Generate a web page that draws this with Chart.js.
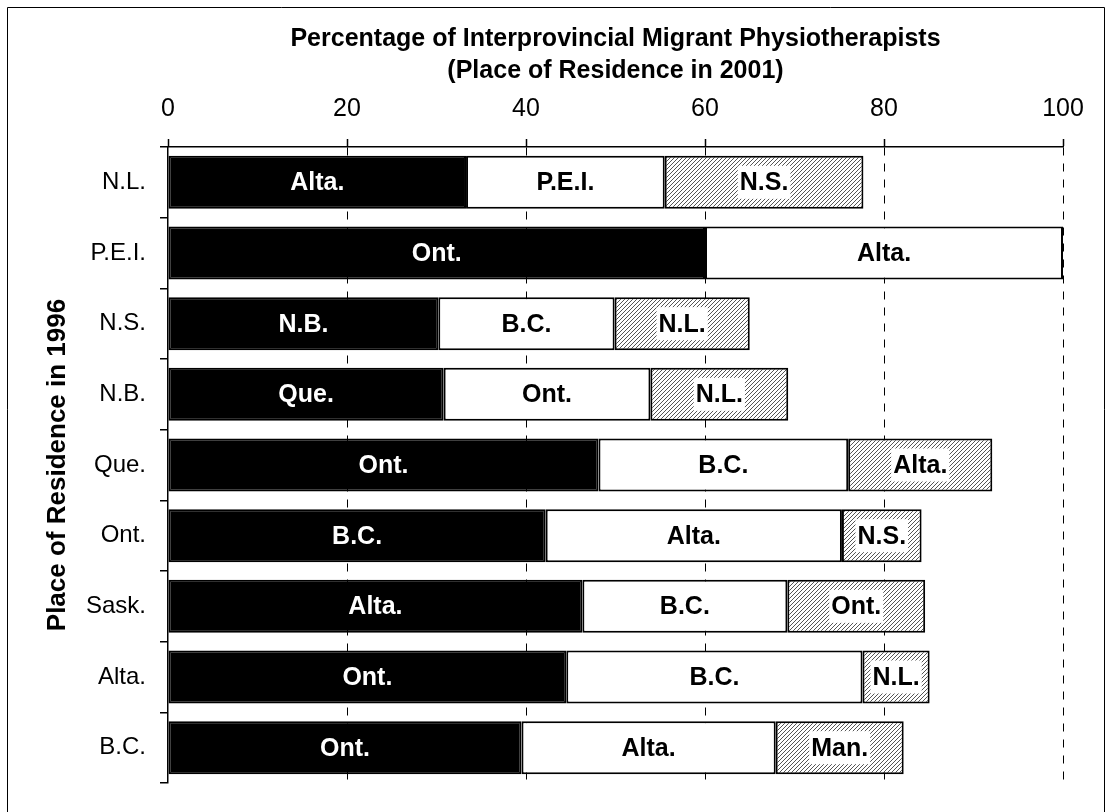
<!DOCTYPE html>
<html>
<head>
<meta charset="utf-8">
<script src="https://cdn.jsdelivr.net/npm/chart.js@4/dist/chart.umd.min.js"></script>
<style>
  body { margin: 0; background: #fff; }
  #zone { width: 1112px; height: 812px; }
</style>
</head>
<body>
<div id="zone"><canvas id="graph"></canvas></div>
<script>
// Données
const provinces1996 = ["N.L.", "P.E.I.", "N.S.", "N.B.", "Que.", "Ont.", "Sask.", "Alta.", "B.C."];
const valeursPremier = [33.3, 60.0, 30.2, 30.8, 48.1, 42.2, 46.3, 44.5, 39.5];
const valeursDeuxieme = [22.2, 40.0, 19.7, 23.1, 27.9, 33.1, 22.9, 33.1, 28.4];
const valeursTroisieme = [22.2, null, 15.1, 15.4, 16.1, 8.9, 15.4, 7.5, 14.3];
const destPremier = ["Alta.", "Ont.", "N.B.", "Que.", "Ont.", "B.C.", "Alta.", "Ont.", "Ont."];
const destDeuxieme = ["P.E.I.", "Alta.", "B.C.", "Ont.", "B.C.", "Alta.", "B.C.", "B.C.", "Alta."];
const destTroisieme = ["N.S.", "", "N.L.", "N.L.", "Alta.", "N.S.", "Ont.", "N.L.", "Man."];

const police = "'Liberation Sans', Arial, sans-serif";

// motif hachuré pour la 3e destination
function creerHachures() {
  const c = document.createElement("canvas");
  c.width = 4; c.height = 4;
  const g = c.getContext("2d");
  g.fillStyle = "#fff";
  g.fillRect(0, 0, 4, 4);
  g.strokeStyle = "#555";
  g.lineWidth = 1;
  g.beginPath();
  g.moveTo(0, 4); g.lineTo(4, 0);
  g.moveTo(-1, 1); g.lineTo(1, -1);
  g.moveTo(3, 5); g.lineTo(5, 3);
  g.stroke();
  return g.createPattern(c, "repeat");
}

// cadre + titre
const cadre = {
  id: "cadre",
  beforeDraw(chart) {
    const ctx = chart.ctx;
    ctx.save();
    ctx.fillStyle = "#fff";
    ctx.fillRect(0, 0, chart.width, chart.height);
    ctx.strokeStyle = "#000";
    ctx.lineWidth = 1;
    ctx.beginPath();
    ctx.moveTo(7.5, chart.height);
    ctx.lineTo(7.5, 7.5);
    ctx.lineTo(1104.5, 7.5);
    ctx.lineTo(1104.5, chart.height);
    ctx.stroke();

    const a = chart.chartArea;
    const cx = (a.left + a.right) / 2;
    ctx.fillStyle = "#000";
    ctx.font = "bold 25px " + police;
    ctx.textAlign = "center";
    ctx.textBaseline = "middle";
    ctx.fillText("Percentage of Interprovincial Migrant Physiotherapists", cx, 39);
    ctx.fillText("(Place of Residence in 2001)", cx, 71);
    ctx.restore();
  }
};

// noms des provinces dans les barres
const etiquettes = {
  id: "etiquettes",
  afterDatasetsDraw(chart) {
    const ctx = chart.ctx;
    const textes = [destPremier, destDeuxieme, destTroisieme];
    ctx.save();
    ctx.font = "bold 25px " + police;
    ctx.textAlign = "center";
    ctx.textBaseline = "middle";
    chart.data.datasets.forEach((ds, i) => {
      chart.getDatasetMeta(i).data.forEach((barre, j) => {
        const t = textes[i][j];
        if (!t || ds.data[j] == null) return;
        const x = (barre.x + barre.base) / 2;
        const y = barre.y;
        if (i === 2) {
          const w = ctx.measureText(t).width + 4;
          ctx.fillStyle = "#fff";
          ctx.fillRect(x - w / 2, y - 16.5, w, 33);
        }
        ctx.fillStyle = i === 0 ? "#fff" : "#000";
        ctx.fillText(t, x, y + 1);
      });
    });
    ctx.restore();
  }
};

new Chart(document.getElementById("graph"), {
  type: "bar",
  data: {
    labels: provinces1996,
    datasets: [
      { data: valeursPremier, backgroundColor: "#000" },
      { data: valeursDeuxieme, backgroundColor: "#fff" },
      { data: valeursTroisieme, backgroundColor: creerHachures() }
    ]
  },
  options: {
    indexAxis: "y",
    responsive: true,
    maintainAspectRatio: false,
    animation: false,
    datasets: {
      bar: { borderColor: "#000", borderWidth: 2, borderSkipped: false, barPercentage: 0.75, categoryPercentage: 1 }
    },
    layout: { padding: { top: 84, right: 49, bottom: 29, left: 0 } },
    plugins: {
      legend: { display: false },
      tooltip: { enabled: false },
      title: { display: false }
    },
    scales: {
      x: {
        position: "top",
        stacked: true,
        min: 0,
        max: 100,
        ticks: { stepSize: 20, color: "#000", font: { family: police, size: 25 }, padding: 15, maxRotation: 0 },
        grid: {
          color: c => (c.tick && c.tick.value === 0) ? "rgba(0,0,0,0)" : "#000",
          lineWidth: 1,
          tickLength: 8,
          tickColor: "#000",
          tickWidth: 1.5,
          tickBorderDash: []
        },
        border: { display: true, color: "#000", width: 1.5, dash: [8, 8] },
        afterFit: s => { s.height = 63; }
      },
      y: {
        stacked: true,
        ticks: { color: "#000", font: { family: police, size: 24 }, padding: 14 },
        grid: { drawOnChartArea: false, tickLength: 8, color: "#000", lineWidth: 1.5 },
        border: { color: "#000", width: 1.5 },
        title: {
          display: true,
          text: "Place of Residence in 1996",
          color: "#000",
          font: { family: police, size: 26, weight: "bold" },
          padding: { top: 42, bottom: 0 }
        },
        afterFit: s => { s.width = 168; }
      }
    }
  },
  plugins: [cadre, etiquettes]
});
</script>
</body>
</html>
